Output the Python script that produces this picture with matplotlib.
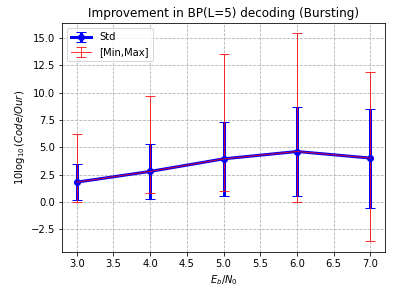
import numpy as np
import matplotlib
matplotlib.use("Agg")
import matplotlib.pyplot as plt

ebn0 = [3.0, 4.0, 5.0, 6.0, 7.0]
moyenne = [1.82, 2.80, 3.95, 4.62, 4.02]
ecartType = [1.63, 2.50, 3.35, 4.03, 4.52]
minimum = [0.0, 0.85, 1.04, 0.04, -3.6]
maximum = [6.2, 9.7, 13.55, 15.4, 11.9]

moy = np.array(moyenne)
errMinMax = [moy - np.array(minimum), np.array(maximum) - moy]

plt.figure(figsize=(395 / 72, 296 / 72), dpi=72)
plt.errorbar(ebn0, moyenne, yerr=ecartType, fmt='-o', color='blue', ecolor='blue',
             linewidth=3, elinewidth=3, capsize=5, markersize=6, label='Std')
plt.errorbar(ebn0, moyenne, yerr=errMinMax, fmt='-', color='red', ecolor='red',
             linewidth=1, elinewidth=1, capsize=5, alpha=0.8, label='[Min,Max]')
plt.grid(linestyle='--')
plt.legend(loc='upper left')
plt.title('Improvement in BP(L=5) decoding (Bursting)')
plt.xlabel('$E_b/N_0$')
plt.ylabel('$10\\log_{10}(Code/Our)$')
plt.subplots_adjust(left=0.157, right=0.975, top=0.922, bottom=0.149)
plt.savefig('out.png', dpi=72)
